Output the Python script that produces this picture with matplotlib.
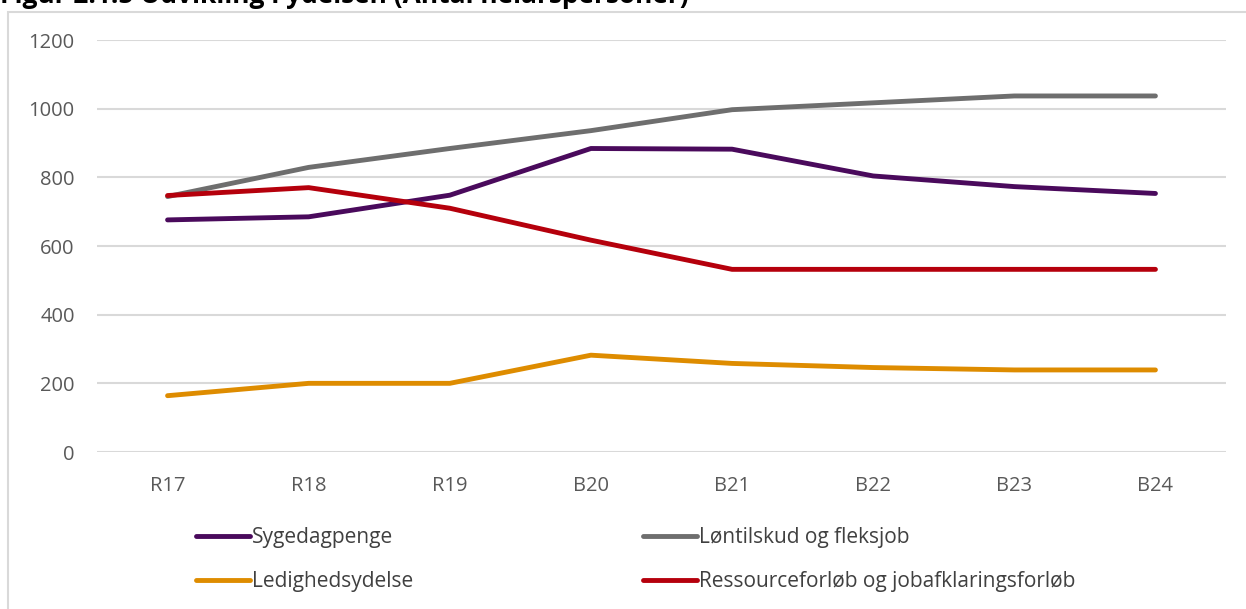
import matplotlib
matplotlib.use("Agg")
import matplotlib.pyplot as plt
from matplotlib.patches import Rectangle

categories = ["R17", "R18", "R19", "B20", "B21", "B22", "B23", "B24"]
sygedagpenge = [676, 685, 748, 884, 882, 804, 773, 753]
loentilskud = [744, 829, 884, 936, 997, 1017, 1037, 1037]
ledighedsydelse = [164, 200, 200, 282, 258, 246, 239, 239]
ressource = [747, 770, 710, 617, 532, 532, 532, 532]
yticks = [0, 200, 400, 600, 800, 1000, 1200]

series = [
    ("Sygedagpenge", sygedagpenge, "#4A0A5C"),
    ("Løntilskud og fleksjob", loentilskud, "#6E6E6E"),
    ("Ledighedsydelse", ledighedsydelse, "#DE8C00"),
    ("Ressourceforløb og jobafklaringsforløb", ressource, "#B5000C"),
]

plt.rcParams['font.family'] = ['Open Sans', 'DejaVu Sans']

fig = plt.figure(figsize=(12.46, 6.09), dpi=100)
ax = fig.add_axes([97/1246, 1-452/609, (1226-97)/1246, (452-40)/609])

# outer frame
fig.patches.append(Rectangle((8/1246, -0.05), 1.2, 1-12/609+0.05, transform=fig.transFigure,
                             fill=False, edgecolor="#D9D9D9", linewidth=1.5, zorder=0))

fig.text(0.0, 1-3/609, "Figur 2.1.5 Udvikling i ydelsen (Antal helårspersoner)",
         fontsize=19, fontweight="bold", color="#000000", ha="left", va="baseline")

x = list(range(len(categories)))
handles = {}
for name, vals, col in series:
    (ln,) = ax.plot(x, vals, color=col, linewidth=3.5, solid_capstyle="round",
                    solid_joinstyle="round", label=name, zorder=3)
    handles[name] = ln

ax.set_xlim(-0.5, len(categories) - 0.5)
ax.set_ylim(0, 1200)
ax.set_yticks(yticks)
ax.set_xticks(x)
ax.set_xticklabels(categories)
ax.yaxis.grid(True, color="#D9D9D9", linewidth=1.5, zorder=0)
ax.set_axisbelow(True)
for s in ax.spines.values():
    s.set_visible(False)
ax.tick_params(axis="both", length=0, labelsize=14.5, labelcolor="#595959")
ax.tick_params(axis="y", pad=16)
ax.tick_params(axis="x", pad=17)

order = ["Sygedagpenge", "Ledighedsydelse", "Løntilskud og fleksjob",
         "Ressourceforløb og jobafklaringsforløb"]
leg = fig.legend([handles[n] for n in order], order, ncol=2,
                 loc="upper left", bbox_to_anchor=(196/1246, 1-527/609),
                 frameon=False, fontsize=15, handlelength=2.6, handletextpad=0.1,
                 columnspacing=11.0, labelspacing=1.1, borderaxespad=0, borderpad=0)
for t in leg.get_texts():
    t.set_color("#404040")

fig.savefig("out.png", dpi=100)
